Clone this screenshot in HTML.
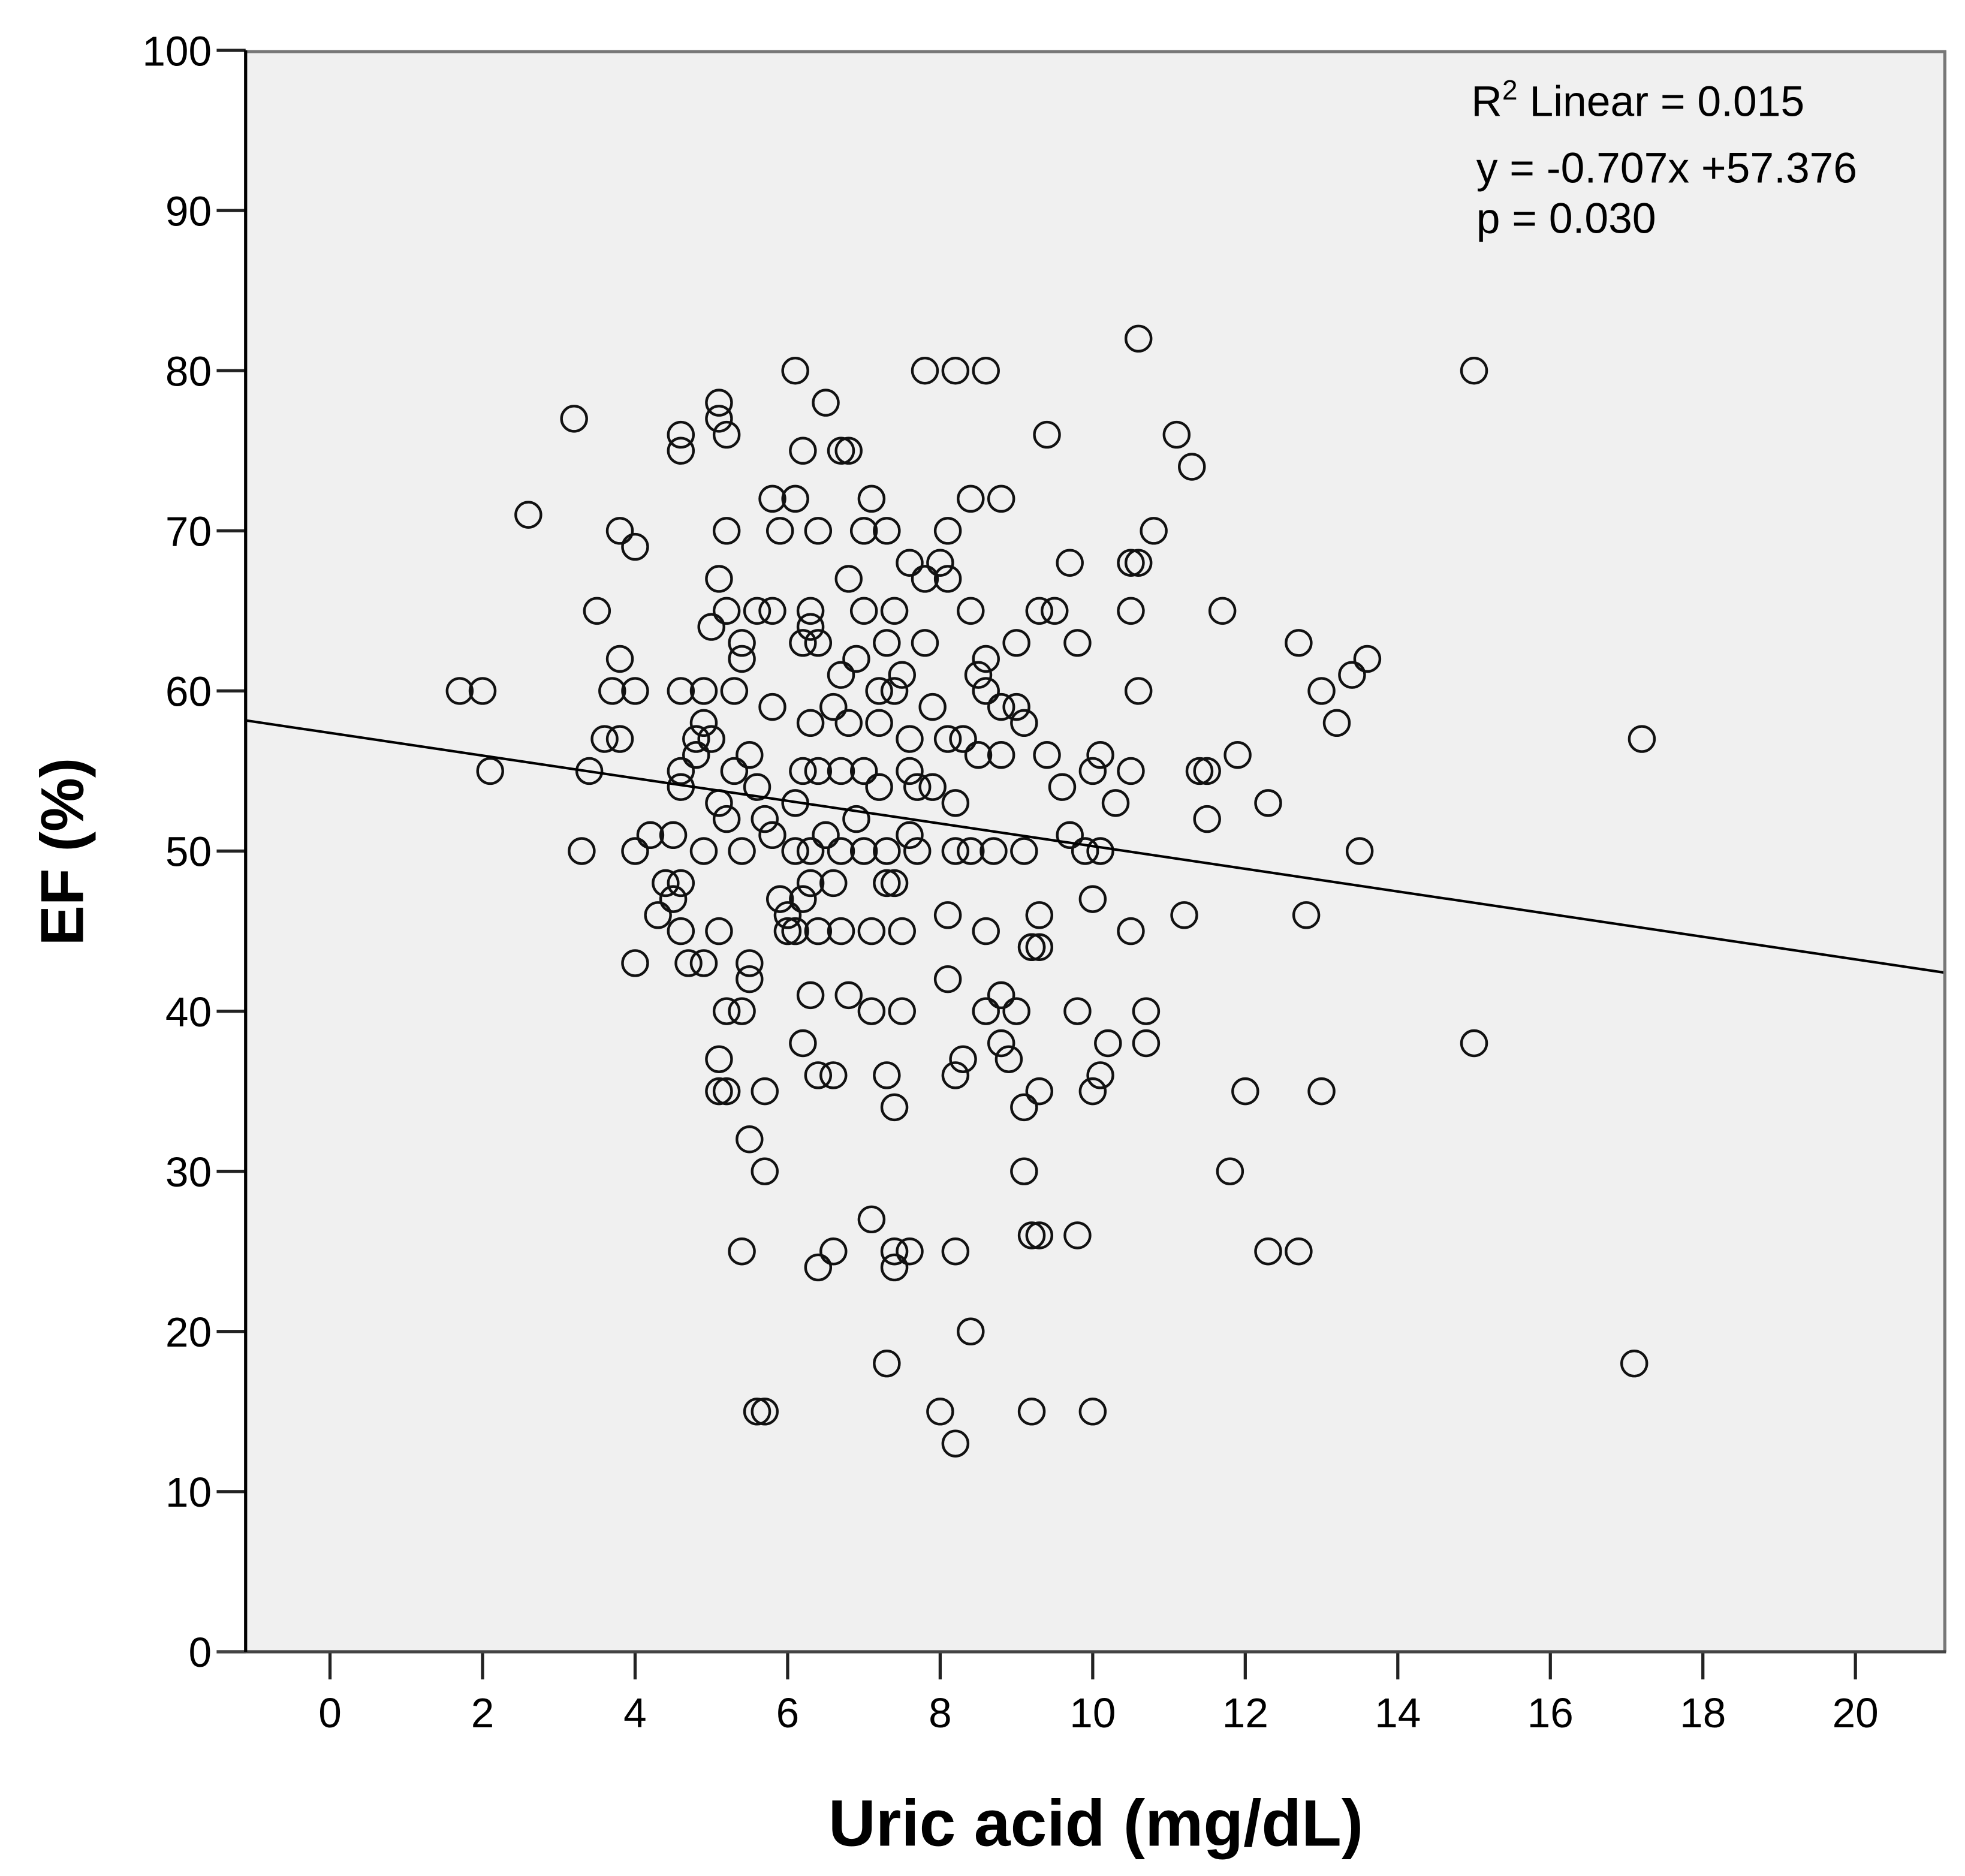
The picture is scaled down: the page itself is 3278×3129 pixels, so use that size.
<!DOCTYPE html>
<html><head><meta charset="utf-8"><style>
html,body{margin:0;padding:0;background:#fff;}
svg{display:block;}
text{font-family:"Liberation Sans",sans-serif;}
</style></head><body>
<svg id="chart" width="3278" height="3129" viewBox="0 0 1560 1489" preserveAspectRatio="none" xmlns="http://www.w3.org/2000/svg">
<rect x="195" y="40" width="1350" height="1271" fill="#f0f0f0" stroke="none"/>
<g id="axes"></g>
<g id="points"></g>
<line id="fit" stroke="#000" stroke-width="2"/>
<line x1="195" y1="41" x2="1545" y2="41" stroke="#777" stroke-width="2.5"/>
<line x1="1544" y1="40" x2="1544" y2="1311" stroke="#777" stroke-width="2.5"/>
<line x1="172" y1="1311" x2="1545" y2="1311" stroke="#444" stroke-width="2.5"/>
<line x1="195" y1="40" x2="195" y2="1311" stroke="#000" stroke-width="2.5"/>
<text x="1168" y="92" font-size="34">R<tspan font-size="22" dy="-13">2</tspan><tspan dy="13"> Linear = 0.015</tspan></text>
<text x="1172" y="145" font-size="34">y = -0.707x +57.376</text>
<text x="1172" y="185" font-size="34">p = 0.030</text>
<text transform="translate(66,676) rotate(-90)" text-anchor="middle" font-size="48" font-weight="bold">EF (%)</text>
<text x="870" y="1465" text-anchor="middle" font-size="52" font-weight="bold">Uric acid (mg/dL)</text>
</svg>
<script>
const xTicks = [0,2,4,6,8,10,12,14,16,18,20];
const yTicks = [0,10,20,30,40,50,60,70,80,90,100];
const slope = -0.707;
const intercept = 57.376;
const uricX = [1.7,2.0,2.1,2.6,3.2,3.3,3.4,3.5,3.6,3.7,3.8,3.8,3.8,4.0,4.0,4.0,4.0,4.2,4.3,4.4,4.5,4.5,4.6,4.6,4.6,4.6,4.6,4.6,4.6,4.7,4.8,4.8,4.9,4.9,4.9,4.9,5.0,5.0,5.1,5.1,5.1,5.1,5.1,5.1,5.1,5.2,5.2,5.2,5.2,5.2,5.2,5.3,5.3,5.4,5.4,5.4,5.4,5.4,5.5,5.5,5.5,5.5,5.6,5.6,5.6,5.7,5.7,5.7,5.7,5.8,5.8,5.8,5.8,5.9,5.9,6.0,6.1,6.1,6.1,6.1,6.2,6.2,6.2,6.2,6.3,6.3,6.3,6.3,6.3,6.3,6.4,6.4,6.4,6.4,6.4,6.4,6.5,6.5,6.6,6.6,6.6,6.6,6.7,6.7,6.7,6.7,6.7,6.8,6.8,6.8,6.8,6.9,6.9,7.0,7.0,7.0,7.0,7.1,7.1,7.1,7.1,7.2,7.2,7.2,7.3,7.3,7.3,7.3,7.3,7.3,7.4,7.4,7.4,7.4,7.4,7.4,7.5,7.5,7.5,7.6,7.6,7.6,7.6,7.6,7.7,7.7,7.8,7.8,7.8,7.9,7.9,8.0,8.0,8.1,8.1,8.1,8.1,8.1,8.2,8.2,8.2,8.2,8.2,8.2,8.3,8.3,8.4,8.4,8.4,8.4,8.5,8.5,8.6,8.6,8.6,8.6,8.6,8.7,8.8,8.8,8.8,8.8,8.8,8.9,9.0,9.0,9.0,9.1,9.1,9.1,9.1,9.2,9.2,9.2,9.3,9.3,9.3,9.3,9.4,9.4,9.5,9.6,9.7,9.7,9.8,9.8,9.8,9.9,10.0,10.0,10.0,10.0,10.1,10.1,10.1,10.2,10.3,10.5,10.5,10.5,10.5,10.6,10.6,10.6,10.7,10.7,10.8,11.1,11.2,11.3,11.4,11.5,11.5,11.7,11.8,11.9,12.0,12.3,12.3,12.7,12.7,12.8,13.0,13.0,13.2,13.4,13.5,13.6,15.0,15.0,17.1,17.2,6.0,6.1,6.2,9.2,9.3];
const efY = [60,60,55,71,77,50,55,65,57,60,62,70,57,69,60,50,43,51,46,48,51,47,76,75,60,55,54,45,48,43,57,56,58,60,50,43,64,57,78,77,67,53,45,37,35,65,70,76,52,40,35,60,55,63,62,50,40,25,56,43,42,32,65,54,15,52,35,30,15,72,65,59,51,70,47,45,53,80,72,50,75,63,55,38,65,64,58,48,41,50,70,63,55,45,36,24,78,51,36,48,25,59,75,61,50,55,45,67,58,41,75,62,52,70,65,55,50,72,40,45,27,60,58,54,70,63,50,48,36,18,65,60,48,34,25,24,61,45,40,68,57,51,55,25,54,50,80,67,63,59,54,68,15,70,67,46,42,57,50,36,13,25,80,53,57,37,72,65,20,50,61,56,60,62,80,45,40,50,72,59,56,41,38,37,63,59,40,58,50,34,30,26,44,15,65,46,35,26,76,56,65,54,68,51,63,40,26,50,55,47,35,15,50,56,36,38,53,65,45,68,55,82,60,68,40,38,70,76,46,74,55,52,55,65,30,56,35,53,25,63,25,46,60,35,58,61,50,62,80,38,18,57,46,45,47,44,44];

const NS = 'http://www.w3.org/2000/svg';
const L = 195, R = 1545, T = 40, B = 1311;
function sx(v){ return 262 + v * (1473 - 262) / 20; }
function sy(v){ return B - v * (B - T) / 100; }
const axes = document.getElementById('axes');
const pts = document.getElementById('points');
function mk(tag, attrs, parent){ const e = document.createElementNS(NS, tag); for (const k in attrs) e.setAttribute(k, attrs[k]); parent.appendChild(e); return e; }

yTicks.forEach(v => {
  const t = mk('line', {x1: 172, x2: L, y1: sy(v), y2: sy(v), stroke: '#222', 'stroke-width': 2.5}, axes);
  
  
  const lb = mk('text', {x: 168, y: sy(v) + 12, 'text-anchor': 'end', 'font-size': 33}, axes);
  
  
  lb.textContent = v;
});
xTicks.forEach(v => {
  const t = mk('line', {x1: sx(v), x2: sx(v), y1: B, y2: B + 22, stroke: '#222', 'stroke-width': 2.5}, axes);
  
  
  const lb = mk('text', {x: sx(v), y: B + 60, 'text-anchor': 'middle', 'font-size': 33}, axes);
  
  
  lb.textContent = v;
});
for (let i = 0; i < Math.min(uricX.length, efY.length); i++) {
  const c = mk('circle', {cx: sx(uricX[i]), cy: sy(efY[i]), r: 10, fill: 'none', stroke: '#111', 'stroke-width': 2.1}, pts);
  
  
}
const xmin = (L - 262) * 20 / (1473 - 262), xmax = (R - 262) * 20 / (1473 - 262);
const fit = document.getElementById('fit');
fit.setAttribute('x1', L); fit.setAttribute('y1', sy(slope * xmin + intercept));
fit.setAttribute('x2', R); fit.setAttribute('y2', sy(slope * xmax + intercept));
</script>
</body></html>
